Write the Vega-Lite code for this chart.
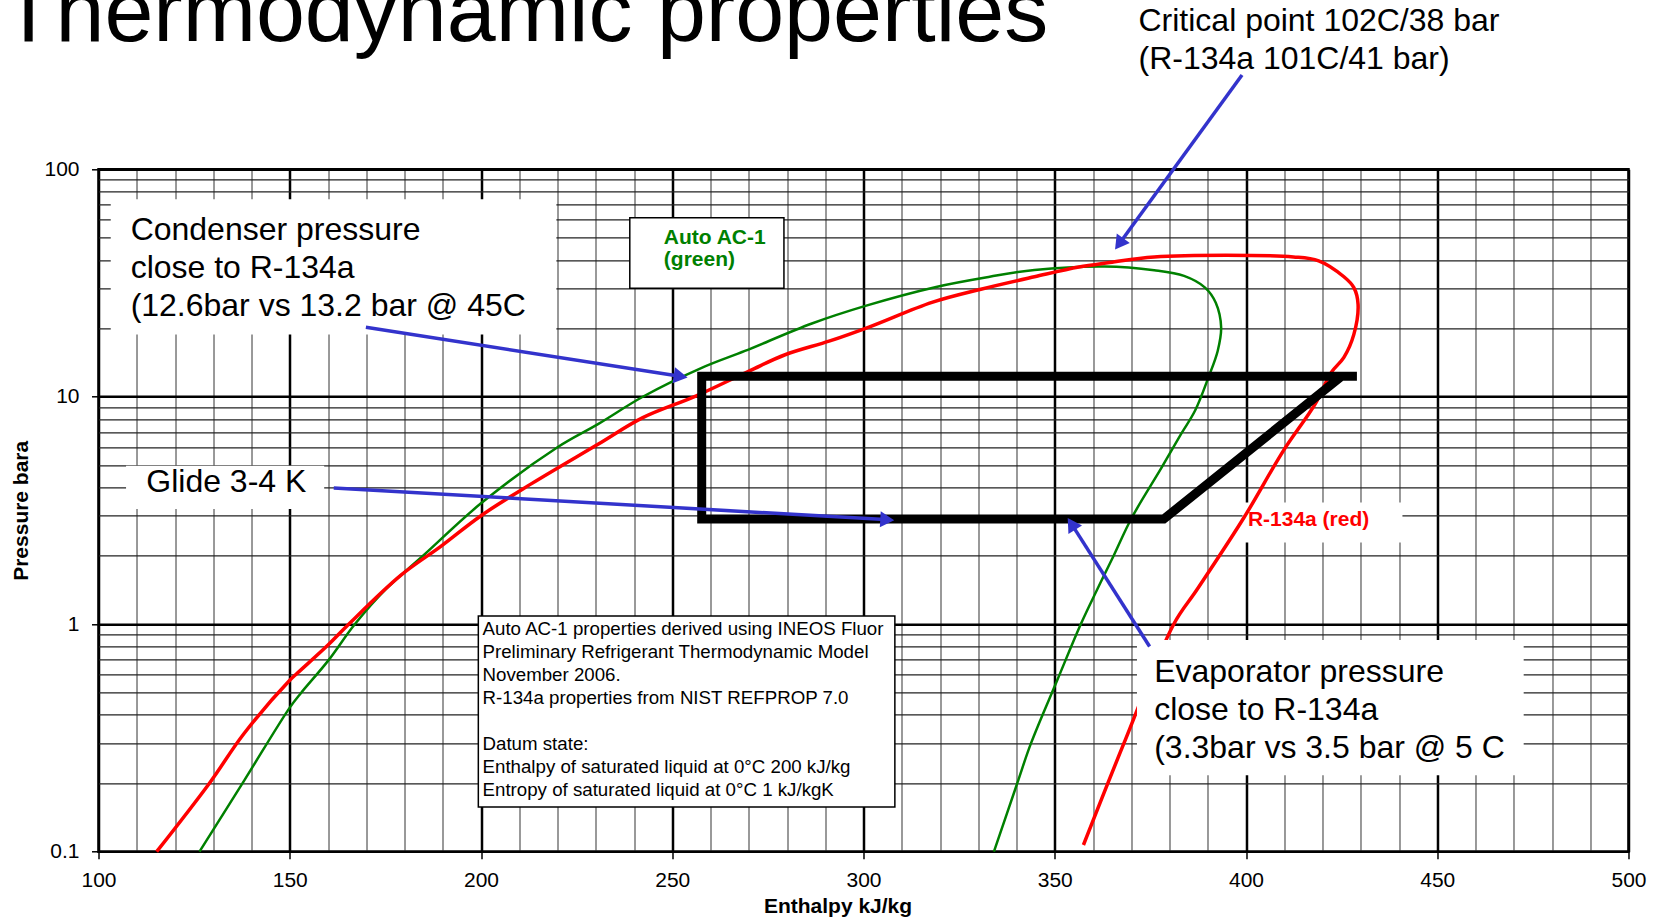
{
  "$schema": "https://vega.github.io/schema/vega-lite/v6.json",
  "width": 1530,
  "height": 682.4,
  "autosize": {"type": "none"},
  "padding": {"left": 98.5, "top": 169.3, "right": 30, "bottom": 69},
  "background": "white",
  "config": {
    "view": {"stroke": "black", "strokeWidth": 2.5},
    "font": "Liberation Sans"
  },
  "datasets": {
    "curves": [
      {"fluid": "R-134a", "i": 1, "h": 115.2, "p": 0.1},
      {"fluid": "R-134a", "i": 2, "h": 129, "p": 0.2},
      {"fluid": "R-134a", "i": 3, "h": 138, "p": 0.33},
      {"fluid": "R-134a", "i": 4, "h": 150, "p": 0.567},
      {"fluid": "R-134a", "i": 5, "h": 152, "p": 0.61},
      {"fluid": "R-134a", "i": 6, "h": 160, "p": 0.81},
      {"fluid": "R-134a", "i": 7, "h": 165.4, "p": 1.0},
      {"fluid": "R-134a", "i": 8, "h": 179, "p": 1.64},
      {"fluid": "R-134a", "i": 9, "h": 189.5, "p": 2.2},
      {"fluid": "R-134a", "i": 10, "h": 200, "p": 3.0},
      {"fluid": "R-134a", "i": 11, "h": 213, "p": 4.13},
      {"fluid": "R-134a", "i": 12, "h": 230.7, "p": 6.2},
      {"fluid": "R-134a", "i": 13, "h": 242.3, "p": 8.1},
      {"fluid": "R-134a", "i": 14, "h": 256.3, "p": 10.1},
      {"fluid": "R-134a", "i": 15, "h": 270.2, "p": 13.0},
      {"fluid": "R-134a", "i": 16, "h": 279.5, "p": 15.3},
      {"fluid": "R-134a", "i": 17, "h": 291.2, "p": 17.6},
      {"fluid": "R-134a", "i": 18, "h": 301.6, "p": 20.3},
      {"fluid": "R-134a", "i": 19, "h": 317.9, "p": 26.0},
      {"fluid": "R-134a", "i": 20, "h": 330.7, "p": 29.7},
      {"fluid": "R-134a", "i": 21, "h": 344.7, "p": 33.7},
      {"fluid": "R-134a", "i": 22, "h": 356.3, "p": 37.2},
      {"fluid": "R-134a", "i": 23, "h": 364.4, "p": 38.9},
      {"fluid": "R-134a", "i": 24, "h": 376, "p": 41.2},
      {"fluid": "R-134a", "i": 25, "h": 412.4, "p": 41.2},
      {"fluid": "R-134a", "i": 26, "h": 419, "p": 39.6},
      {"fluid": "R-134a", "i": 27, "h": 425.6, "p": 33.7},
      {"fluid": "R-134a", "i": 28, "h": 428.2, "p": 30.2},
      {"fluid": "R-134a", "i": 29, "h": 429.3, "p": 25.5},
      {"fluid": "R-134a", "i": 30, "h": 428.2, "p": 18.8},
      {"fluid": "R-134a", "i": 31, "h": 425.6, "p": 14.9},
      {"fluid": "R-134a", "i": 32, "h": 422.3, "p": 12.8},
      {"fluid": "R-134a", "i": 33, "h": 418.1, "p": 9.3},
      {"fluid": "R-134a", "i": 34, "h": 409.8, "p": 5.8},
      {"fluid": "R-134a", "i": 35, "h": 399.4, "p": 2.93},
      {"fluid": "R-134a", "i": 36, "h": 387.2, "p": 1.42},
      {"fluid": "R-134a", "i": 37, "h": 381.1, "p": 1.0},
      {"fluid": "R-134a", "i": 38, "h": 368.1, "p": 0.3},
      {"fluid": "R-134a", "i": 39, "h": 357.5, "p": 0.107},
      {"fluid": "Auto AC-1", "i": 1, "h": 126.4, "p": 0.1},
      {"fluid": "Auto AC-1", "i": 2, "h": 138.2, "p": 0.207},
      {"fluid": "Auto AC-1", "i": 3, "h": 150, "p": 0.43},
      {"fluid": "Auto AC-1", "i": 4, "h": 153, "p": 0.5},
      {"fluid": "Auto AC-1", "i": 5, "h": 160, "p": 0.69},
      {"fluid": "Auto AC-1", "i": 6, "h": 167, "p": 1.0},
      {"fluid": "Auto AC-1", "i": 7, "h": 175, "p": 1.42},
      {"fluid": "Auto AC-1", "i": 8, "h": 185, "p": 2.01},
      {"fluid": "Auto AC-1", "i": 9, "h": 200, "p": 3.4},
      {"fluid": "Auto AC-1", "i": 10, "h": 220, "p": 6.0},
      {"fluid": "Auto AC-1", "i": 11, "h": 230.7, "p": 7.6},
      {"fluid": "Auto AC-1", "i": 12, "h": 242.3, "p": 10.0},
      {"fluid": "Auto AC-1", "i": 13, "h": 257.7, "p": 13.4},
      {"fluid": "Auto AC-1", "i": 14, "h": 269, "p": 15.9},
      {"fluid": "Auto AC-1", "i": 15, "h": 286.5, "p": 21.0},
      {"fluid": "Auto AC-1", "i": 16, "h": 300.5, "p": 25.1},
      {"fluid": "Auto AC-1", "i": 17, "h": 319, "p": 30.4},
      {"fluid": "Auto AC-1", "i": 18, "h": 333, "p": 33.7},
      {"fluid": "Auto AC-1", "i": 19, "h": 344.7, "p": 36.1},
      {"fluid": "Auto AC-1", "i": 20, "h": 363, "p": 37.4},
      {"fluid": "Auto AC-1", "i": 21, "h": 376, "p": 36.0},
      {"fluid": "Auto AC-1", "i": 22, "h": 383.8, "p": 34.0},
      {"fluid": "Auto AC-1", "i": 23, "h": 389.3, "p": 30.2},
      {"fluid": "Auto AC-1", "i": 24, "h": 392.1, "p": 25.9},
      {"fluid": "Auto AC-1", "i": 25, "h": 393.5, "p": 20.2},
      {"fluid": "Auto AC-1", "i": 26, "h": 392.6, "p": 15.9},
      {"fluid": "Auto AC-1", "i": 27, "h": 390.2, "p": 12.2},
      {"fluid": "Auto AC-1", "i": 28, "h": 386.7, "p": 8.7},
      {"fluid": "Auto AC-1", "i": 29, "h": 383.0, "p": 6.85},
      {"fluid": "Auto AC-1", "i": 30, "h": 378.0, "p": 4.9},
      {"fluid": "Auto AC-1", "i": 31, "h": 370.1, "p": 2.93},
      {"fluid": "Auto AC-1", "i": 32, "h": 365.4, "p": 2.0},
      {"fluid": "Auto AC-1", "i": 33, "h": 361.0, "p": 1.41},
      {"fluid": "Auto AC-1", "i": 34, "h": 356.8, "p": 1.0},
      {"fluid": "Auto AC-1", "i": 35, "h": 350.7, "p": 0.57},
      {"fluid": "Auto AC-1", "i": 36, "h": 343.8, "p": 0.3},
      {"fluid": "Auto AC-1", "i": 37, "h": 340.2, "p": 0.2},
      {"fluid": "Auto AC-1", "i": 38, "h": 334.1, "p": 0.1}
    ],
    "cycle": [
      {"i": 1, "h": 429, "p": 12.3},
      {"i": 2, "h": 257.7, "p": 12.3},
      {"i": 3, "h": 257.7, "p": 2.9},
      {"i": 4, "h": 378.5, "p": 2.9},
      {"i": 5, "h": 425, "p": 12.3}
    ],
    "boxes": [
      {"name": "condenser", "kind": "plain", "h": 103.2, "h2": 219.7, "p": 18.8, "p2": 73.8},
      {"name": "glide", "kind": "plain", "h": 107.2, "h2": 159.0, "p": 3.21, "p2": 4.98},
      {"name": "red label", "kind": "plain", "h": 399.1, "h2": 440.9, "p": 2.29, "p2": 3.43},
      {"name": "evaporator", "kind": "over", "h": 371.5, "h2": 472.6, "p": 0.217, "p2": 0.853},
      {"name": "green label", "kind": "framed", "h": 238.9, "h2": 279.2, "p": 30.0, "p2": 61.3},
      {"name": "info", "kind": "framed", "h": 199.3, "h2": 308.2, "p": 0.1574, "p2": 1.088}
    ],
    "notes": [
      {"style": "title", "h": 74.7, "p": 366.0, "label": "Thermodynamic properties"},
      {"style": "big", "h": 108.4, "p": 54.0, "label": "Condenser pressure\nclose to R-134a\n(12.6bar vs 13.2 bar @ 45C"},
      {"style": "big", "h": 376.0, "p": 0.619, "label": "Evaporator pressure\nclose to R-134a\n(3.3bar vs 3.5 bar @ 5 C"},
      {"style": "big", "h": 371.9, "p": 447.7, "label": "Critical point 102C/38 bar\n(R-134a 101C/41 bar)"},
      {"style": "big", "h": 112.5, "p": 4.2, "label": "Glide 3-4 K"},
      {"style": "green", "h": 247.8, "p": 49.8, "label": "Auto AC-1\n(green)"},
      {"style": "red", "h": 400.5, "p": 2.87, "label": "R-134a (red)"},
      {"style": "info", "h": 200.4, "p": 0.9535, "label": "Auto AC-1 properties derived using INEOS Fluor\nPreliminary Refrigerant Thermodynamic Model\nNovember 2006.\nR-134a properties from NIST REFPROP 7.0"},
      {"style": "info", "h": 200.4, "p": 0.2987, "label": "Datum state:\nEnthalpy of saturated liquid at 0°C 200 kJ/kg\nEntropy of saturated liquid at 0°C 1 kJ/kgK"}
    ],
    "arrows": [
      {"id": "cond", "i": 0, "h": 169.9, "p": 20.2},
      {"id": "cond", "i": 1, "h": 251.6, "p": 12.34},
      {"id": "glide", "i": 0, "h": 161.5, "p": 3.97},
      {"id": "glide", "i": 1, "h": 305.6, "p": 2.884},
      {"id": "crit", "i": 0, "h": 398.96, "p": 259.8},
      {"id": "crit", "i": 1, "h": 367.2, "p": 47.9},
      {"id": "evap", "i": 0, "h": 374.8, "p": 0.798},
      {"id": "evap", "i": 1, "h": 354.7, "p": 2.707}
    ]
  },
  "encoding": {
    "x": {
      "field": "h",
      "type": "quantitative",
      "scale": {"domain": [100, 500], "nice": false, "zero": false},
      "axis": {
        "title": "Enthalpy kJ/kg",
        "values": [100,110,120,130,140,150,160,170,180,190,200,210,220,230,240,250,260,270,280,290,300,310,320,330,340,350,360,370,380,390,400,410,420,430,440,450,460,470,480,490,500],
        "format": "d",
        "grid": true,
        "gridColor": {"condition": {"test": "datum.value % 50 === 0", "value": "#000000"}, "value": "#555555"},
        "gridWidth": {"condition": {"test": "datum.value % 50 === 0", "value": 2.5}, "value": 1.2},
        "gridOpacity": 1,
        "domain": false,
        "ticks": true,
        "tickColor": "black",
        "tickWidth": 1.5,
        "tickSize": 7,
        "tickOpacity": {"condition": {"test": "datum.value % 50 === 0", "value": 1}, "value": 0},
        "labelExpr": "datum.value % 50 === 0 ? datum.label : ''",
        "labelOverlap": false,
        "labelFlush": false,
        "labelFont": "Liberation Sans",
        "labelFontSize": 21,
        "labelColor": "black",
        "labelPadding": 11,
        "titleFont": "Liberation Sans",
        "titleFontSize": 21,
        "titleFontWeight": "bold",
        "titleColor": "black",
        "titleX": 739,
        "titleY": 55,
        "titleAlign": "center",
        "titleBaseline": "middle"
      }
    },
    "y": {
      "field": "p",
      "type": "quantitative",
      "scale": {"type": "log", "domain": [0.1, 100], "nice": false},
      "axis": {
        "title": "Pressure bara",
        "values": [0.1,0.2,0.3,0.4,0.5,0.6,0.7,0.8,0.9,1,2,3,4,5,6,7,8,9,10,20,30,40,50,60,70,80,90,100],
        "format": "~g",
        "grid": true,
        "gridColor": {"condition": {"test": "datum.value === 0.1 || datum.value === 1 || datum.value === 10 || datum.value === 100", "value": "#000000"}, "value": "#222222"},
        "gridWidth": {"condition": {"test": "datum.value === 0.1 || datum.value === 1 || datum.value === 10 || datum.value === 100", "value": 2.5}, "value": 1.2},
        "gridOpacity": 1,
        "domain": false,
        "ticks": true,
        "tickColor": "black",
        "tickWidth": 1.5,
        "tickSize": 7,
        "tickOpacity": {"condition": {"test": "datum.value === 0.1 || datum.value === 1 || datum.value === 10 || datum.value === 100", "value": 1}, "value": 0},
        "labelExpr": "(datum.value === 0.1 || datum.value === 1 || datum.value === 10 || datum.value === 100) ? datum.label : ''",
        "labelOverlap": false,
        "labelFlush": false,
        "labelFont": "Liberation Sans",
        "labelFontSize": 21,
        "labelColor": "black",
        "labelPadding": 12.5,
        "titleFont": "Liberation Sans",
        "titleFontSize": 21,
        "titleFontWeight": "bold",
        "titleColor": "black",
        "titleX": -77,
        "titleY": 341,
        "titleAngle": 270,
        "titleAlign": "center",
        "titleBaseline": "middle"
      }
    }
  },
  "layer": [
    {
      "data": {"name": "boxes"},
      "transform": [{"filter": "datum.kind === 'plain'"}],
      "mark": {"type": "rect", "fill": "white", "strokeWidth": 0},
      "encoding": {"x2": {"field": "h2"}, "y2": {"field": "p2"}}
    },
    {
      "data": {"name": "curves"},
      "transform": [{"filter": "datum.fluid === 'Auto AC-1'"}],
      "mark": {"type": "line", "color": "#008000", "strokeWidth": 2.5, "interpolate": "catmull-rom"},
      "encoding": {"order": {"field": "i", "type": "quantitative"}}
    },
    {
      "data": {"name": "curves"},
      "transform": [{"filter": "datum.fluid === 'R-134a'"}],
      "mark": {"type": "line", "color": "#FF0000", "strokeWidth": 3.5, "interpolate": "catmull-rom"},
      "encoding": {"order": {"field": "i", "type": "quantitative"}}
    },
    {
      "data": {"name": "cycle"},
      "mark": {"type": "line", "color": "black", "strokeWidth": 9, "strokeJoin": "miter", "strokeCap": "butt"},
      "encoding": {"order": {"field": "i", "type": "quantitative"}}
    },
    {
      "data": {"name": "boxes"},
      "transform": [{"filter": "datum.kind === 'over'"}],
      "mark": {"type": "rect", "fill": "white", "strokeWidth": 0},
      "encoding": {"x2": {"field": "h2"}, "y2": {"field": "p2"}}
    },
    {
      "data": {"name": "boxes"},
      "transform": [{"filter": "datum.kind === 'framed'"}],
      "mark": {"type": "rect", "fill": "white", "stroke": "black", "strokeWidth": 1.5},
      "encoding": {"x2": {"field": "h2"}, "y2": {"field": "p2"}}
    },
    {
      "data": {"name": "notes"},
      "transform": [{"filter": "datum.style === 'title'"}],
      "mark": {"type": "text", "align": "left", "baseline": "alphabetic", "font": "Liberation Sans", "fontSize": 88, "color": "black"},
      "encoding": {"text": {"field": "label"}}
    },
    {
      "data": {"name": "notes"},
      "transform": [{"filter": "datum.style === 'big'"}],
      "mark": {"type": "text", "align": "left", "baseline": "middle", "font": "Liberation Sans", "fontSize": 32, "lineHeight": 38, "lineBreak": "\n", "color": "black"},
      "encoding": {"text": {"field": "label"}}
    },
    {
      "data": {"name": "notes"},
      "transform": [{"filter": "datum.style === 'green'"}],
      "mark": {"type": "text", "align": "left", "baseline": "middle", "font": "Liberation Sans", "fontSize": 21, "fontWeight": "bold", "lineHeight": 22, "lineBreak": "\n", "color": "#008000"},
      "encoding": {"text": {"field": "label"}}
    },
    {
      "data": {"name": "notes"},
      "transform": [{"filter": "datum.style === 'red'"}],
      "mark": {"type": "text", "align": "left", "baseline": "middle", "font": "Liberation Sans", "fontSize": 21, "fontWeight": "bold", "color": "#FF0000"},
      "encoding": {"text": {"field": "label"}}
    },
    {
      "data": {"name": "notes"},
      "transform": [{"filter": "datum.style === 'info'"}],
      "mark": {"type": "text", "align": "left", "baseline": "middle", "font": "Liberation Sans", "fontSize": 18.7, "lineHeight": 23, "lineBreak": "\n", "color": "black"},
      "encoding": {"text": {"field": "label"}}
    },
    {
      "data": {"name": "arrows"},
      "mark": {"type": "line", "color": "#3333CC", "strokeWidth": 3.5},
      "encoding": {"detail": {"field": "id"}, "order": {"field": "i", "type": "quantitative"}}
    },
    {
      "data": {"name": "arrows"},
      "transform": [{"filter": "datum.id === 'cond' && datum.i === 1"}],
      "mark": {"type": "point", "shape": "triangle", "filled": true, "color": "#3333CC", "size": 260, "opacity": 1, "strokeWidth": 0, "angle": 98.8}
    },
    {
      "data": {"name": "arrows"},
      "transform": [{"filter": "datum.id === 'glide' && datum.i === 1"}],
      "mark": {"type": "point", "shape": "triangle", "filled": true, "color": "#3333CC", "size": 260, "opacity": 1, "strokeWidth": 0, "angle": 93.3}
    },
    {
      "data": {"name": "arrows"},
      "transform": [{"filter": "datum.id === 'crit' && datum.i === 1"}],
      "mark": {"type": "point", "shape": "triangle", "filled": true, "color": "#3333CC", "size": 260, "opacity": 1, "strokeWidth": 0, "angle": 216.1}
    },
    {
      "data": {"name": "arrows"},
      "transform": [{"filter": "datum.id === 'evap' && datum.i === 1"}],
      "mark": {"type": "point", "shape": "triangle", "filled": true, "color": "#3333CC", "size": 260, "opacity": 1, "strokeWidth": 0, "angle": 327.4}
    }
  ]
}
